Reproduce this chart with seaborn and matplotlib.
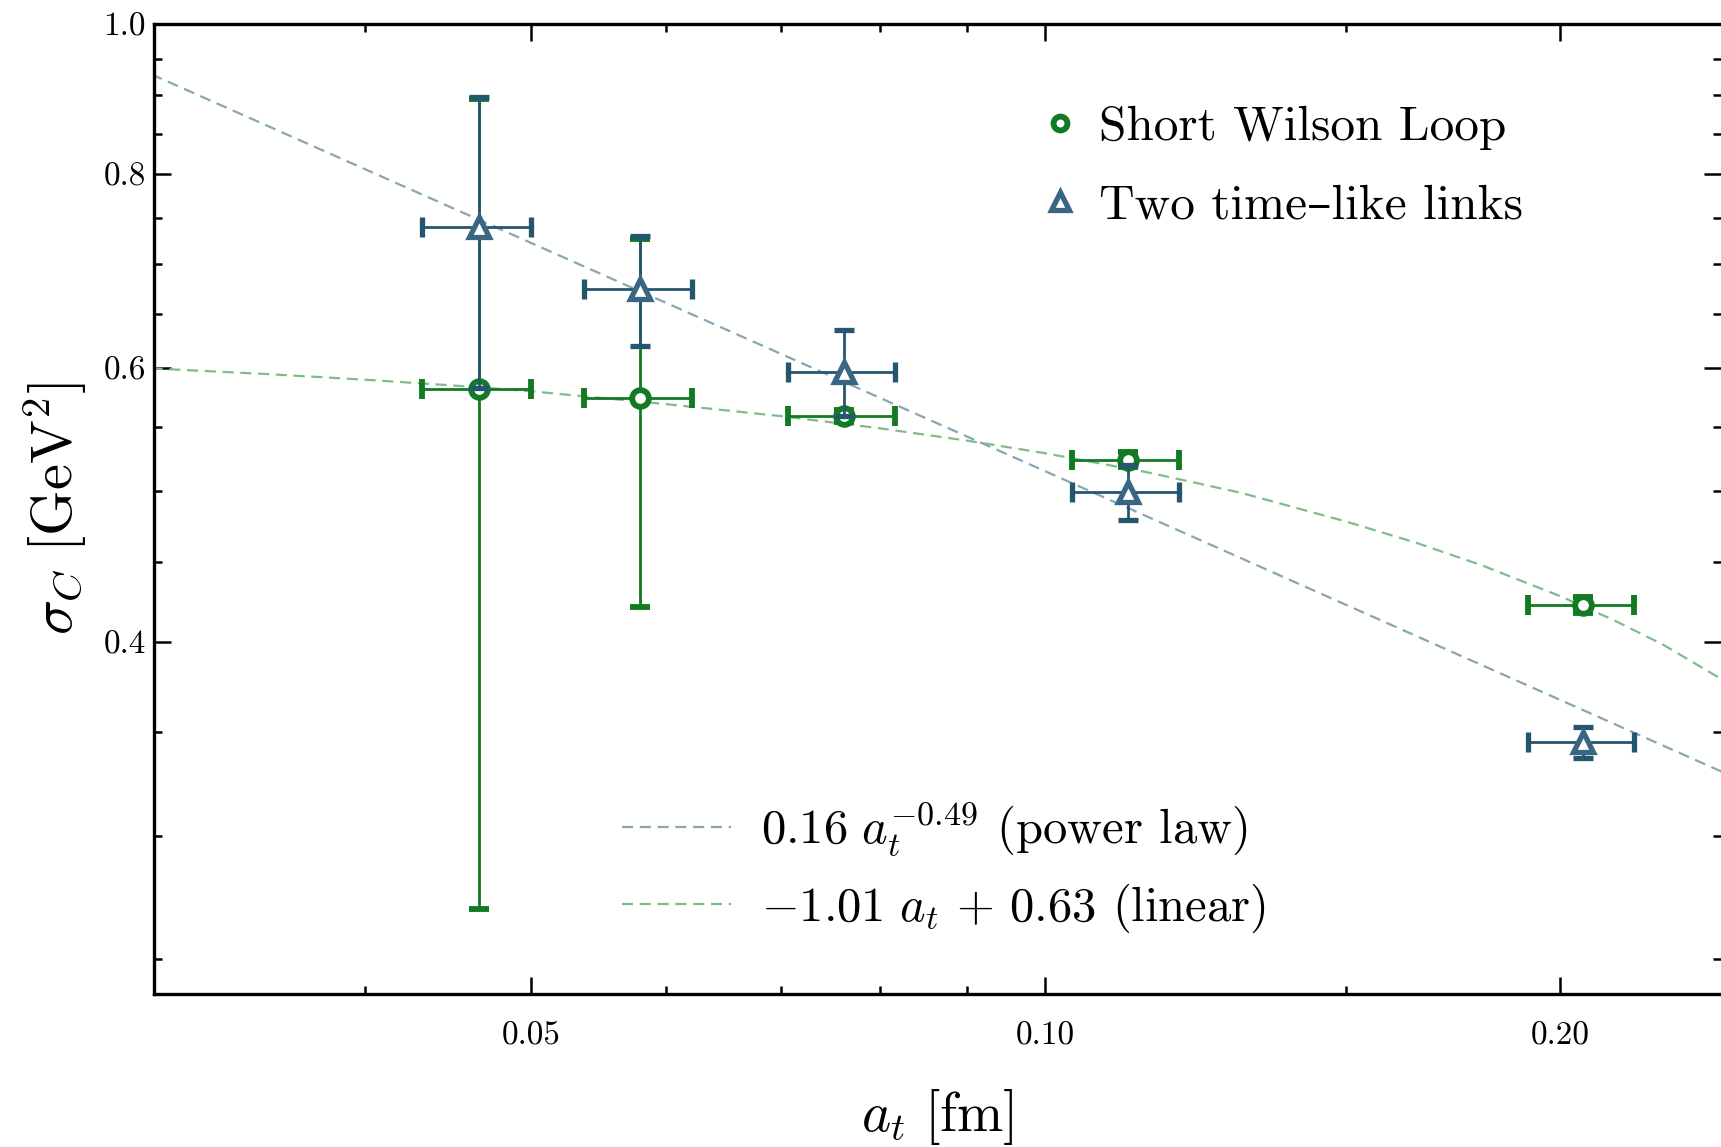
import numpy as np
import pandas as pd
import matplotlib
matplotlib.use("Agg")
import matplotlib.pyplot as plt
from matplotlib.lines import Line2D
from matplotlib.ticker import FixedLocator, FixedFormatter, NullFormatter
import seaborn as sns

# lattice spacing a_t [fm] and errors
a_t = [0.0466, 0.0579, 0.0762, 0.1117, 0.2063]
a_t_err = [0.0034, 0.0042, 0.0055, 0.0080, 0.0147]

# Short Wilson Loop
swl = [0.582, 0.574, 0.559, 0.524, 0.4223]
swl_err = [0.313, 0.153, 0.005, 0.006, 0.005]

# Two time-like links
ttl = [0.740, 0.675, 0.597, 0.4995, 0.3446]
ttl_err = [0.157, 0.055, 0.038, 0.020, 0.008]

# fit curves
pow_x = [0.030, 0.25]
pow_y = [0.928, 0.329]
lin_x = [0.030, 0.035, 0.040, 0.045, 0.050, 0.060, 0.070, 0.080, 0.090, 0.100,
         0.115, 0.130, 0.150, 0.165, 0.180, 0.200, 0.215, 0.230, 0.250]
lin_y = [0.600, 0.595, 0.590, 0.585, 0.580, 0.569, 0.559, 0.549, 0.539, 0.529,
         0.514, 0.499, 0.478, 0.463, 0.448, 0.428, 0.413, 0.398, 0.377]

x_major = [0.05, 0.10, 0.20]
x_major_labels = ["0.05", "0.10", "0.20"]
x_minor = [0.03, 0.04, 0.06, 0.07, 0.08, 0.09, 0.15]
y_major = [0.4, 0.6, 0.8, 1.0]
y_major_labels = ["0.4", "0.6", "0.8", "1.0"]
y_minor = [0.25, 0.30, 0.35, 0.45, 0.50, 0.55, 0.65, 0.70, 0.75, 0.85, 0.90, 0.95]

green = "#117a22"
blue_bar = "#24566f"
blue_mk = "#3a6684"
pow_col = "#88a6b4"
lin_col = "#80bc88"

sns.set_theme(style="ticks")
plt.rcParams["font.family"] = ["cmr10", "DejaVu Serif"]
plt.rcParams["mathtext.fontset"] = "cm"
plt.rcParams["axes.unicode_minus"] = False
for k in ["text.color", "axes.labelcolor", "xtick.color", "ytick.color"]:
    plt.rcParams[k] = "black"

fig = plt.figure(figsize=(17.21, 11.47), dpi=100)
ax = fig.add_axes([154 / 1721, 1 - 994 / 1147, 1 - 154 / 1721, 970 / 1147])
ax.set_xscale("log")
ax.set_yscale("log")

pow_df = pd.DataFrame({"x": pow_x, "y": pow_y})
lin_df = pd.DataFrame({"x": lin_x, "y": lin_y})
sns.lineplot(data=pow_df, x="x", y="y", ax=ax, color=pow_col, lw=1.6,
             dashes=False, sort=False, estimator=None)
sns.lineplot(data=lin_df, x="x", y="y", ax=ax, color=lin_col, lw=1.6,
             dashes=False, sort=False, estimator=None)
for ln in ax.get_lines():
    ln.set_dashes((5, 3))

ax.errorbar(a_t, swl, xerr=a_t_err, yerr=swl_err, fmt="o", color=green,
            ms=12, mfc="white", mec=green, mew=4.2, elinewidth=2, capsize=7,
            capthick=1.8, zorder=3)
ax.errorbar(a_t, ttl, xerr=a_t_err, yerr=ttl_err, fmt="^", color=blue_bar,
            ms=15, mfc="white", mec=blue_mk, mew=3.8, elinewidth=2, capsize=7,
            capthick=1.8, zorder=4)

ax.set_xlim(0.0301, 0.2484)
ax.set_ylim(0.2372, 1.0)

ax.xaxis.set_major_locator(FixedLocator(x_major))
ax.xaxis.set_major_formatter(FixedFormatter(x_major_labels))
ax.xaxis.set_minor_locator(FixedLocator(x_minor))
ax.xaxis.set_minor_formatter(NullFormatter())
ax.yaxis.set_major_locator(FixedLocator(y_major))
ax.yaxis.set_major_formatter(FixedFormatter(y_major_labels))
ax.yaxis.set_minor_locator(FixedLocator(y_minor))
ax.yaxis.set_minor_formatter(NullFormatter())

ax.tick_params(which="both", direction="in", top=True, right=True, width=1.8,
               color="black")
ax.tick_params(which="major", length=12)
ax.tick_params(which="minor", length=5.5)
ax.tick_params(axis="x", which="major", pad=20, labelsize=24)
ax.tick_params(axis="y", which="major", pad=6, labelsize=24)

for s in ["left", "top", "bottom"]:
    ax.spines[s].set_linewidth(2.4)
    ax.spines[s].set_color("black")
ax.spines["right"].set_visible(False)

ax.set_xlabel(r"$a_t\ [\mathrm{fm}]$", fontsize=40, labelpad=26)
ax.set_ylabel(r"$\sigma_C\ [\mathrm{GeV}^2]$", fontsize=42, labelpad=10)

h1 = [Line2D([], [], ls="none", marker="o", ms=10, mfc="white", mec=green, mew=4.2),
      Line2D([], [], ls="none", marker="^", ms=13, mfc="white", mec=blue_mk, mew=3.8)]
leg1 = fig.legend(h1, ["Short Wilson Loop", "Two time\u2013like links"],
                  loc="center left", bbox_to_anchor=(1035 / 1721, 1 - 167 / 1147),
                  frameon=False, fontsize=35.5, handlelength=1.0, handletextpad=0.3,
                  borderpad=0, borderaxespad=0, labelspacing=0.68)

h2 = [Line2D([], [], color=pow_col, lw=1.6, dashes=(5, 3)),
      Line2D([], [], color=lin_col, lw=1.6, dashes=(5, 3))]
leg2 = fig.legend(h2, [r"$0.16\ a_t^{-0.49}$ (power law)",
                       r"$-1.01\ a_t\,+\,0.63$ (linear)"],
                  loc="center left", bbox_to_anchor=(622 / 1721, 1 - 868 / 1147),
                  frameon=False, fontsize=35, handlelength=2.25, handletextpad=0.6,
                  borderpad=0, borderaxespad=0, labelspacing=0.5)

fig.savefig("out.png", dpi=100)
